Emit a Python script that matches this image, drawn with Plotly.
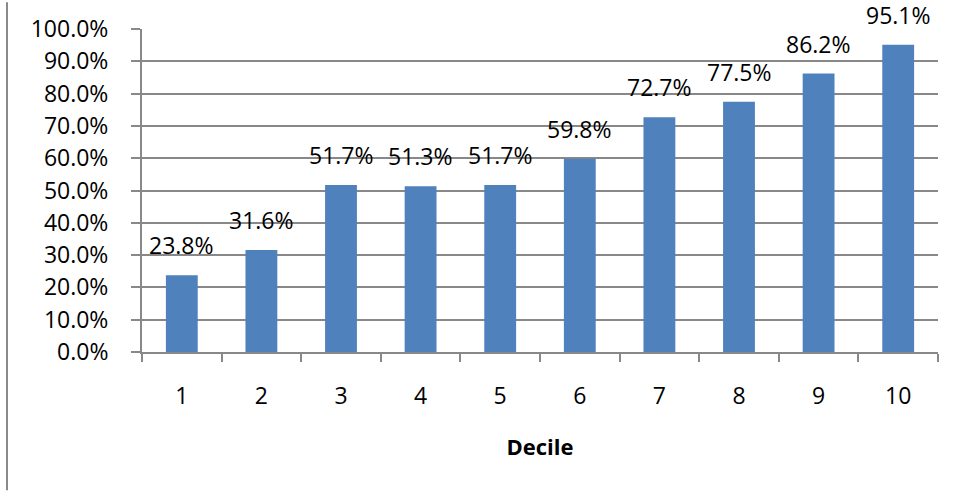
import plotly.graph_objects as go

deciles = ["1", "2", "3", "4", "5", "6", "7", "8", "9", "10"]
shares = [0.238, 0.316, 0.517, 0.513, 0.517, 0.598, 0.727, 0.775, 0.862, 0.951]
y_ticks = [i / 10 for i in range(11)]
y_tick_text = [f"{v * 100:.1f}%" for v in y_ticks]

FONT = "Open Sans"
FSIZE = 23
GRID = "#888888"
BAR = "#4F81BD"

fig = go.Figure(
    go.Bar(
        x=deciles,
        y=shares,
        marker=dict(color=BAR, line=dict(width=0)),
        width=0.4,
        hoverinfo="skip",
    )
)

# value labels above each bar (x given as category index)
for i, s in enumerate(shares):
    fig.add_annotation(
        x=i, y=s, text=f"{s * 100:.1f}%", showarrow=False,
        yanchor="bottom", yshift=12,
        font=dict(family=FONT, size=FSIZE, color="#000000"),
    )

# frame line at the left edge of the chart area
fig.add_shape(
    type="line", xref="paper", yref="paper",
    x0=(7 - 142) / 796, x1=(7 - 142) / 796, y0=-139 / 325, y1=1 + 27 / 325,
    line=dict(color="#8a8a8a", width=2),
)

fig.update_layout(
    width=954, height=491,
    margin=dict(l=142, r=16, t=27, b=139),
    paper_bgcolor="white", plot_bgcolor="white",
    showlegend=False,
    font=dict(family=FONT, size=FSIZE, color="#000000"),
    xaxis=dict(
        type="category",
        range=[-0.5, 9.5],
        showline=True, linecolor=GRID, linewidth=2,
        ticks="outside", tickson="boundaries", ticklen=8, tickcolor=GRID, tickwidth=2,
        ticklabelstandoff=22,
        tickfont=dict(family=FONT, size=FSIZE),
        title=dict(text="<b>Decile</b>", font=dict(family=FONT, size=22), standoff=30),
        showgrid=False,
    ),
    yaxis=dict(
        range=[0, 1],
        tickvals=y_ticks, ticktext=y_tick_text,
        showline=True, linecolor=GRID, linewidth=2,
        ticks="outside", ticklen=9, tickcolor=GRID, tickwidth=2,
        ticklabelstandoff=18,
        tickfont=dict(family=FONT, size=FSIZE),
        showgrid=True, gridcolor=GRID, gridwidth=2,
        zeroline=False,
    ),
)

fig.write_html("out.html")
